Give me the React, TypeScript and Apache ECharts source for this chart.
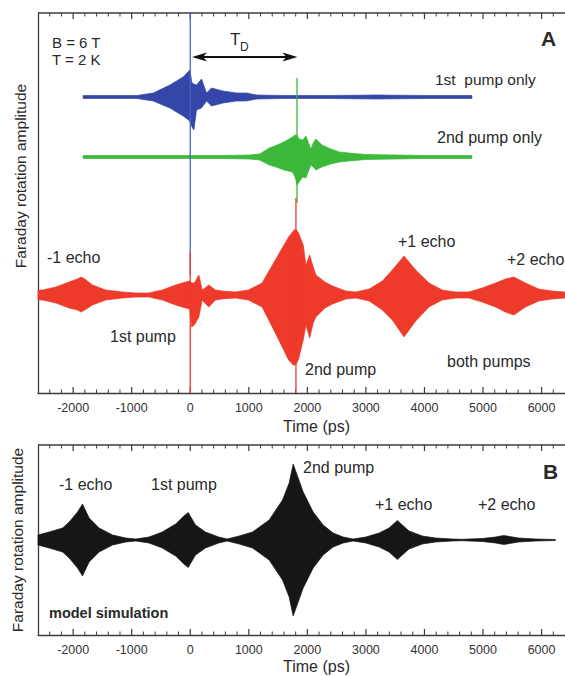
import React, { useEffect, useRef } from "react";
import * as echarts from "echarts";

// ---------- axis ----------
const X_MIN = -2600;
const X_MAX = 6400;
const MINOR_STEP = 200;
const majorTicks = [-2000, -1000, 0, 1000, 2000, 3000, 4000, 5000, 6000];

// ---------- panel A (arbitrary units, baseline offsets) ----------
const blueBase = 296;
const blueT = [-1830, -1400, -913, -632, -348, -121, -7, 30, 62, 108, 193, 278, 363, 562, 790, 961, 1132, 1600, 2400, 3200, 4000, 4810];
const blueUp = [1.5, 1.5, 1.5, 4, 12, 20, 27, 14, 13, 12, 18, 4, 9, 6, 4, 4, 2, 1.5, 1.5, 2, 1.5, 1.5];
const blueDn = [1.5, 1.5, 1.5, 4, 11, 19, 24, 30, 33, 13, 11, 4, 9, 6, 4, 4, 2, 1.5, 1.5, 2, 1.5, 1.5];

const greenBase = 236;
const greenT = [-1830, -500, 0, 500, 1012, 1184, 1351, 1465, 1600, 1745, 1790, 1823, 1860, 1920, 1976, 2020, 2060, 2100, 2146, 2250, 2400, 2550, 2713, 3000, 3500, 4000, 4810];
const greenUp = [1.5, 1.5, 1.5, 1.5, 2, 3, 9, 11.6, 15, 20, 22, 22, 18, 17, 21, 14, 8, 14, 18, 12, 8, 5, 4, 2.5, 2, 1.5, 1.5];
const greenDn = [1.5, 1.5, 1.5, 1.5, 2, 3, 8, 10, 13, 15, 20, 28, 25, 20, 21, 14, 8, 10, 13, 10, 7, 5, 4, 2.5, 2, 1.5, 1.5];

const redBase = 98;
const redT = [-2600, -2520, -2295, -2068, -1925, -1868, -1800, -1670, -1443, -1158, -930, -710, -477, -250, -80, -10, 25, 70, 147, 204, 250, 317, 430, 545, 772, 993, 1227, 1453, 1680, 1760, 1800, 1850, 1930, 1975, 2040, 2100, 2146, 2300, 2430, 2657, 2828, 3055, 3281, 3451, 3651, 3850, 4077, 4303, 4532, 4758, 4985, 5213, 5383, 5525, 5724, 5951, 6177, 6400];
const redUp = [5, 5, 8, 13, 16, 18, 16, 10, 5, 3, 2, 2, 5, 10, 13, 14, 12, 12, 20, 5, 7, 10, 5, 4, 3, 5, 12, 35, 58, 64, 66, 62, 50, 30, 40, 28, 20, 13, 9, 4, 3, 6, 14, 25, 39, 25, 12, 5, 3, 3, 7, 12, 16, 18, 12, 6, 4, 3];
const redDn = [5, 5, 8, 13, 15, 17, 15, 10, 5, 3, 2, 2, 5, 10, 13, 14, 32, 30, 22, 5, 8, 12, 5, 4, 3, 5, 12, 38, 65, 70, 70, 64, 45, 30, 43, 28, 22, 13, 9, 4, 3, 6, 15, 25, 42, 26, 12, 5, 3, 3, 7, 12, 17, 20, 12, 6, 4, 3];

// pump spikes [time, low, high]
const blueSpike = [0, 118, 380];
const greenSpike = [1823, 190, 315];
const redSpikes = [
  [0, 0, 141],
  [1805, 0, 195],
];
const tdArrow = [30, 1830, 336]; // [from, to, level]

// ---------- panel B (model simulation, symmetric envelope) ----------
const blackT = [-2600, -2409, -2295, -2181, -2068, -1925, -1840, -1727, -1556, -1327, -1100, -932, -705, -477, -250, -108, -35, 90, 260, 487, 630, 836, 1064, 1348, 1576, 1689, 1758, 1929, 2099, 2270, 2440, 2611, 2781, 2998, 3225, 3395, 3537, 3736, 3963, 4190, 4474, 4644, 4985, 5213, 5354, 5610, 5894, 6235];
const blackAmp = [5, 8, 10, 12, 18, 28, 36, 22, 12, 5, 2, 1, 3, 8, 16, 24, 27.5, 15, 8, 3, 1, 4, 8, 20, 40, 57, 76, 48, 28, 15, 7, 3, 1, 3, 7, 12, 19.5, 9, 4, 2, 1, 0.7, 1.5, 3, 4.5, 2, 1, 0.5];

const FONT = "Liberation Sans";
const AXIS = "#3c3c3c";
const TXT = "#2a2a2a";

function band(name: string, xi: number, yi: number, T: number[], base: number, up: number[], dn: number[], color: string) {
  return {
    type: "custom",
    name,
    xAxisIndex: xi,
    yAxisIndex: yi,
    silent: true,
    data: [[T[0], base]],
    renderItem: (params: any, api: any) => {
      const top = T.map((t, i) => api.coord([t, base + up[i]]));
      const bot = T.map((t, i) => api.coord([t, base - dn[i]])).reverse();
      return {
        type: "polygon",
        shape: { points: top.concat(bot) },
        style: { fill: color, stroke: color, lineWidth: 0.7 },
      };
    },
  };
}

function spikes(xi: number, yi: number, list: number[][], color: string) {
  return {
    type: "custom",
    xAxisIndex: xi,
    yAxisIndex: yi,
    silent: true,
    data: list,
    renderItem: (params: any, api: any) => {
      const a = api.coord([api.value(0), api.value(1)]);
      const b = api.coord([api.value(0), api.value(2)]);
      return {
        type: "line",
        shape: { x1: a[0], y1: a[1], x2: b[0], y2: b[1] },
        style: { stroke: color, lineWidth: 1.3 },
      };
    },
  };
}

function arrowSeries(xi: number, yi: number) {
  return {
    type: "custom",
    xAxisIndex: xi,
    yAxisIndex: yi,
    silent: true,
    data: [tdArrow],
    renderItem: (params: any, api: any) => {
      const a = api.coord([api.value(0), api.value(2)]);
      const b = api.coord([api.value(1), api.value(2)]);
      const y = a[1];
      const L = 15, H = 4.5, N = 4;
      return {
        type: "group",
        children: [
          { type: "line", shape: { x1: a[0] + 6, y1: y, x2: b[0] - 6, y2: y }, style: { stroke: "#111", lineWidth: 2 } },
          { type: "polygon", shape: { points: [[a[0], y], [a[0] + L, y - H], [a[0] + L - N, y], [a[0] + L, y + H]] }, style: { fill: "#111" } },
          { type: "polygon", shape: { points: [[b[0], y], [b[0] - L, y - H], [b[0] - L + N, y], [b[0] - L, y + H]] }, style: { fill: "#111" } },
        ],
      };
    },
  };
}

function xAxisDef(gridIndex: number) {
  return {
    type: "value",
    gridIndex,
    min: X_MIN,
    max: X_MAX,
    position: "bottom",
    splitLine: { show: false },
    axisLine: { show: true, onZero: false, lineStyle: { color: AXIS, width: 1.3 } },
    axisTick: { show: false },
    axisLabel: {
      show: true,
      customValues: majorTicks,
      formatter: (v: number) => String(v),
      fontSize: 12.5,
      color: "#333",
      margin: 8,
      fontFamily: FONT,
    },
  };
}

function yAxisDef(gridIndex: number, min: number, max: number, gap: number, shift: number) {
  return {
    type: "value",
    gridIndex,
    min,
    max,
    name: "Faraday rotation amplitude",
    nameLocation: "middle",
    nameRotate: 90,
    nameGap: gap,
    nameTextStyle: { fontSize: 15.5, color: TXT, fontFamily: FONT, padding: [0, 0, 0, shift] },
    axisLine: { show: true, onZero: false, lineStyle: { color: AXIS, width: 1.3 } },
    axisTick: { show: false },
    axisLabel: { show: false },
    splitLine: { show: false },
  };
}

function t(text: string, left: number, top: number, size: number, bold = false) {
  return {
    text,
    left,
    top,
    padding: 0,
    textStyle: { fontSize: size, fontWeight: bold ? "bold" : "normal", color: TXT, fontFamily: FONT },
  };
}

export default function App() {
  const ref = useRef<HTMLDivElement>(null);
  useEffect(() => {
    if (!ref.current) return;
    const chart = echarts.init(ref.current, null, { renderer: "svg" });
    const option: any = {
      animation: false,
      title: [
        t("B = 6 T", 52, 35, 15),
        t("T = 2 K", 52, 52, 15),
        t("T", 230, 31, 17),
        t("D", 240, 41, 12),
        t("A", 541, 28, 21, true),
        t("1st  pump only", 435, 71, 15.5),
        t("2nd pump only", 437, 129, 16),
        t("-1 echo", 47, 249, 16),
        t("1st pump", 110, 328, 16),
        t("+1 echo", 398, 233, 16),
        t("+2 echo", 507, 251, 16),
        t("2nd pump", 305, 361, 16),
        t("both pumps", 447, 353, 16),
        t("Time (ps)", 283, 418, 16),
        t("-1 echo", 59, 476, 16),
        t("1st pump", 151, 476, 16),
        t("2nd pump", 303, 459, 16),
        t("+1 echo", 375, 496, 16),
        t("+2 echo", 478, 496, 16),
        t("B", 543, 461, 21, true),
        t("model simulation", 49, 605, 14.5, true),
        t("Time (ps)", 283, 658, 16),
      ],
      grid: [
        { left: 38, top: 13, width: 527, height: 380 },
        { left: 38, top: 445, width: 527, height: 190 },
      ],
      xAxis: [xAxisDef(0), xAxisDef(1)],
      yAxis: [yAxisDef(0, 0, 380, 10, 54), yAxisDef(1, -95, 95, 13, 0)],
      series: [
        band("2nd pump only", 0, 0, greenT, greenBase, greenUp, greenDn, "#3cb83a"),
        band("1st pump only", 0, 0, blueT, blueBase, blueUp, blueDn, "#3447a8"),
        spikes(0, 0, [greenSpike], "#3cb83a"),
        spikes(0, 0, [blueSpike], "#4a62c4"),
        band("both pumps", 0, 0, redT, redBase, redUp, redDn, "#ee3a2a"),
        spikes(0, 0, redSpikes, "#ee3a2a"),
        arrowSeries(0, 0),
        band("model simulation", 1, 1, blackT, 0, blackAmp, blackAmp, "#161616"),
      ],
    };
    chart.setOption(option);

    // frame top edges and tick marks, positioned through the axes' own scales
    const els: any[] = [];
    const frames = [
      { xi: 0, yi: 0, yMin: 0, yMax: 380 },
      { xi: 1, yi: 1, yMin: -95, yMax: 95 },
    ];
    frames.forEach((f) => {
      const yb = chart.convertToPixel({ yAxisIndex: f.yi } as any, f.yMin) as number;
      const yt = chart.convertToPixel({ yAxisIndex: f.yi } as any, f.yMax) as number;
      const x0 = chart.convertToPixel({ xAxisIndex: f.xi } as any, X_MIN) as number;
      const x1 = chart.convertToPixel({ xAxisIndex: f.xi } as any, X_MAX) as number;
      els.push({ type: "line", silent: true, shape: { x1: x0, y1: yt, x2: x1, y2: yt }, style: { stroke: AXIS, lineWidth: 1.3 } });
      for (let v = X_MIN + MINOR_STEP; v < X_MAX; v += MINOR_STEP) {
        const major = majorTicks.indexOf(v) >= 0;
        const len = major ? 6 : 3.5;
        const x = chart.convertToPixel({ xAxisIndex: f.xi } as any, v) as number;
        const st = { stroke: AXIS, lineWidth: major ? 1.2 : 1 };
        els.push({ type: "line", silent: true, shape: { x1: x, y1: yb, x2: x, y2: yb - len }, style: st });
        els.push({ type: "line", silent: true, shape: { x1: x, y1: yt, x2: x, y2: yt + len }, style: st });
      }
    });
    chart.setOption({ graphic: { elements: els } });

    return () => chart.dispose();
  }, []);
  return <div ref={ref} style={{ position: "fixed", left: 0, top: 0, width: 565, height: 676, background: "#fff" }} />;
}
